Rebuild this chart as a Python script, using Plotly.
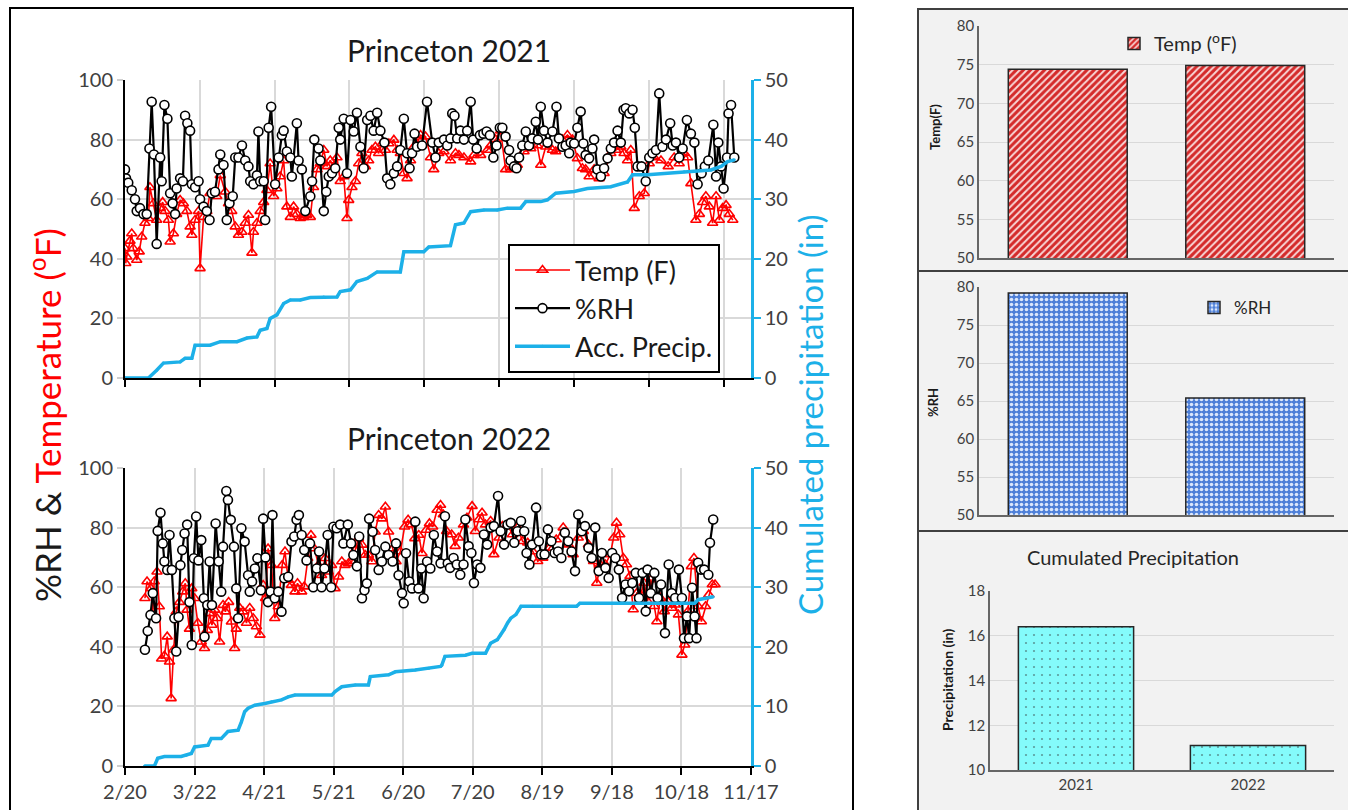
import plotly.graph_objects as go

# ---------------- data ----------------
# x values are days after Feb 20 of each year
tick_days = [0, 30, 60, 90, 120, 150, 180, 210, 240, 270]
tick_labels = ["2/20", "3/22", "4/21", "5/21", "6/20", "7/20", "8/19", "9/18", "10/18", "11/17"]

# ---- 2021 ----
rh21_day = [0, 0.4, 1.3, 2.7, 4.0, 4.7, 6.0, 7.4, 8.7, 9.8,
            10.7, 11.6, 12.7, 14.1, 14.7, 15.8, 17.0, 18.1, 19.1, 20.1,
            20.7, 22.1, 23.2, 24.1, 25.0, 26.1, 26.8, 28.1, 29.5, 30.1,
            31.5, 32.8, 33.9, 34.8, 36.1, 37.5, 38.2, 39.5, 40.8, 41.9,
            43.2, 44.2, 45.5, 46.9, 48.2, 49.5, 50.2, 51.5, 52.9, 53.5,
            54.2, 55.6, 56.2, 57.6, 58.6, 60.2, 61.6, 62.9, 63.6, 64.9,
            66.3, 66.9, 68.9, 69.6, 70.9, 72.3, 74.3, 75.0, 75.9, 77.6,
            78.3, 79.7, 80.7, 81.7, 83.0, 84.3, 85.7, 86.3, 87.7, 89.0,
            90.4, 91.7, 93.0, 94.4, 95.7, 97.1, 98.4, 99.7, 101.1, 102.4,
            104.0, 105.1, 106.4, 107.8, 109.1, 110.4, 111.8, 113.1, 114.1, 115.1,
            116.1, 117.1, 119.1, 121.1, 123.2, 124.5, 125.8,
            127.9, 129.2, 130.5, 131.2, 132.1, 133.2, 134.5, 135.9, 137.2, 138.6,
            139.6, 141.0, 142.3, 143.7, 145.0, 146.3, 147.7, 149.0, 150.3, 151.3,
            152.6, 154.0, 154.6, 156.0, 157.0, 158.0, 159.3, 160.7, 162.0, 163.3,
            164.7, 165.6, 166.7, 168.0, 169.4, 171.4, 173.0, 174.0, 175.4, 176.7,
            178.1, 178.7, 180.1, 181.4, 182.7, 183.8, 184.7, 186.1, 187.4, 188.1,
            189.4, 190.8, 192.1, 193.5, 194.8, 196.1, 197.5, 198.8, 199.9, 200.8,
            202.2, 203.5, 204.4, 205.5, 207.1, 208.8, 210.2, 211.5, 212.9, 214.2,
            215.5, 216.9, 218.6, 219.6, 220.9, 222.2, 223.6, 225.3, 226.9, 228.3,
            229.6, 231.2, 232.5, 233.9, 235.9, 237.0, 237.9, 239.0, 240.0, 241.4,
            242.0, 243.0, 244.3]
rh21_val = [70, 67, 65.5, 63, 60, 56, 57, 55, 55, 77,
            92.7, 75, 45, 74, 66, 91.6, 87, 62, 58.6, 55,
            63.6, 67, 66, 88, 85.5, 83, 65, 64, 66, 60,
            57.5, 56, 53, 62, 62.5, 70, 75, 71.5, 53, 58.6,
            61, 74, 74, 78, 73, 71, 66, 65, 68, 82.7,
            66, 66, 53, 84, 91, 65, 74, 81.5, 83, 76,
            74, 67.6, 85.5, 73, 70, 56, 61, 66, 80, 77,
            73, 56, 62.5, 67.6, 68.7, 70.4, 84, 80, 87, 68.7,
            86.6, 82.7, 89, 77.6, 70.4, 86.6, 88, 83, 89, 83,
            79, 67, 65, 68.7, 71, 76.5, 87, 75.4, 70.4, 75.4,
            82, 77.6, 78, 92.7, 79, 74, 79,
            80, 78, 80.4, 88.8, 88, 80.4, 83, 80, 83, 92.7,
            80, 77, 81.5, 82, 82.7, 81.5, 74, 78, 84, 84,
            81, 76.5, 73, 71, 70.4, 74, 78, 82.7, 78, 80.4,
            86, 80, 91, 83, 79, 82.7, 91, 80.4, 77.6, 78,
            75.4, 79, 78.7, 84, 89.4, 78.7, 74.8, 73.7, 77, 80,
            70, 67.6, 70.4, 73.7, 77, 79, 83, 79, 90, 90.5,
            88.8, 90, 84, 71, 71, 66, 74, 75.4, 76.5, 95.5,
            77.6, 80, 85.5, 78, 79, 74, 77, 86.6, 82, 79,
            65, 68.7, 71, 73, 85, 67.6, 79, 71, 63.6, 74,
            88.8, 91.6, 74]

t21_day = [0, 0.3, 0.7, 2.0, 2.7, 3.3, 4.7, 5.7, 6.7, 8.0,
           9.4, 10.0, 11.4, 12.7, 14.1, 15.1, 16.1, 17.4, 18.1, 19.4,
           20.7, 22.1, 23.4, 24.8, 26.1, 26.8, 28.1, 29.5, 30.1, 31.5,
           32.8, 34.1, 35.5, 36.8, 38.2, 40.2, 41.5, 42.8, 44.2, 45.5,
           46.9, 48.2, 49.5, 50.9, 51.5, 52.9, 54.2, 55.6, 56.9, 58.2,
           59.6, 60.9, 62.2, 63.6, 64.9, 66.3, 67.6, 68.9, 70.3, 71.6,
           72.9, 74.3, 75.6, 77.0, 78.3, 79.7, 81.0, 82.3, 83.7, 85.0,
           86.3, 87.7, 89.0, 89.7, 91.0, 92.4, 93.7, 95.0, 96.4, 97.7,
           99.0, 100.4, 101.7, 103.1, 104.4, 105.8, 107.8, 109.1, 110.4, 111.8,
           113.1, 114.5, 115.8, 117.1, 118.5, 120.5, 122.5, 123.8, 125.8,
           127.9, 130.5, 132.5, 133.9, 135.9, 138.6, 139.9, 142.6, 145.3, 146.6,
           148.6, 150.6, 152.6, 154.6, 157.3, 160.0, 162.7, 165.3, 166.7, 168.7,
           171.4, 172.7, 175.4, 177.4, 179.4, 181.4, 183.4, 184.7, 186.1, 188.1,
           190.1, 192.1, 194.8, 196.8, 198.8, 200.1, 201.5, 202.8, 204.2, 206.2,
           208.2, 210.2, 212.2, 214.9, 217.8, 220.2, 222.2, 224.2, 225.6, 226.9,
           228.9, 230.3, 231.6, 232.9, 234.3, 235.6, 237.0, 238.3, 239.6, 241.0,
           242.3, 243.7]
t21_val = [43.5, 38.5, 40.7, 46, 48.5, 43.5, 39.6, 42.4, 47.4, 52,
           53.6, 64, 58.6, 53, 57, 59, 56, 53, 45.7, 48.5,
           55, 59.7, 58.6, 56, 50.8, 48, 53, 56, 36.8, 54,
           56, 62, 62, 61, 68, 62.5, 58.6, 56, 50.8, 48,
           49, 52, 54.7, 42, 49, 52, 56, 59, 63, 72,
           61, 63.6, 67.6, 73, 57.5, 54, 57.5, 55, 53.6, 54,
           54.7, 54, 64, 70, 72, 76.5, 71, 73, 71, 74,
           66, 67.6, 53.6, 59.7, 64, 66, 72, 75.4, 71, 73,
           76.5, 77.6, 75.4, 78.7, 76.5, 78.7, 79.9, 76.5, 75.4, 68.7,
           67, 73, 77.6, 78.7, 81.5, 81, 74, 70, 75.4,
           76, 73, 75.4, 74.8, 74, 72.6, 74.8, 74.8, 76.5, 78,
           80, 83, 70, 70, 71.5, 76, 77, 78, 71.5, 77.6,
           76.5, 76, 80, 81.5, 80, 73.7, 70.4, 70, 67.6, 70,
           67, 68.7, 75.4, 76.5, 77.6, 75.4, 73, 76.5, 57, 61,
           62, 72, 74, 73, 71, 74, 72, 75.4, 74, 65.3,
           53, 55, 59, 61, 57.5, 52, 61, 53, 57, 58,
           55, 53]

p21_day = [0, 9.4, 12.7, 15.4, 22.1, 24.1, 26.8, 28.1, 34.1, 38.2,
           44.9, 48.9, 52.9, 54.2, 56.9, 58.2, 60.9, 63.6, 66.3, 70.3,
           74.3, 79.7, 85.0, 86.3, 90.4, 93.0, 97.1, 101.1, 110.4, 111.8,
           119.8, 121.8, 130.5, 132.5, 135.9, 138.6, 143.9, 149.3, 153.3, 158.6,
           160.7, 166.7, 169.4, 172.7, 180.1, 185.4, 194.8, 201.5, 203.5, 209.5,
           216.2, 224.2, 234.9, 239.0, 241.6, 244.3]
p21_val = [0, 0, 1.3, 2.5, 2.7, 3.3, 3.3, 5.5, 5.5, 6.1,
           6.1, 6.7, 6.9, 8.0, 8.3, 10, 10.6, 12.5, 13.1, 13.1,
           13.5, 13.6, 13.6, 14.5, 14.8, 16.2, 16.7, 17.8, 17.8, 21.2,
           21.2, 22, 22.2, 25.7, 26, 27.9, 28.2, 28.2, 28.5, 28.5,
           29.6, 29.6, 29.9, 31, 31.3, 31.8, 32.1, 32.9, 34.1, 34.1,
           34.3, 34.6, 34.9, 35.5, 36.3, 36.6]

# ---- 2022 ----
rh22_day = [8.6, 9.8, 11.0, 12.0, 13.4, 14.1, 15.3, 16.3, 17.0, 18.2,
            19.2, 20.2, 21.3, 22.1, 23.1, 23.9, 24.7, 25.7, 26.8, 27.8,
            28.8, 29.7, 30.7, 31.7, 32.9, 34.0, 34.3, 35.5, 36.5, 37.5,
            39.1, 40.4, 41.5, 42.3, 43.7, 44.4, 45.6, 47.0, 48.0, 48.8,
            50.2, 51.6, 53.1, 53.8, 54.8, 56.0, 57.1, 58.6, 59.6, 60.6,
            61.7, 62.8, 63.6, 64.6, 66.1, 67.5, 68.7, 70.4, 71.8, 73.0,
            74.0, 75.0, 76.2, 77.3, 78.3, 79.8, 81.2, 82.7, 83.7, 84.8,
            86.0, 87.4, 88.9, 89.9, 91.3, 92.8, 94.2, 96.1, 97.5, 98.5,
            100.0, 101.0, 102.2, 103.3, 104.3, 105.3, 106.8, 107.9, 109.4, 110.8,
            112.3, 113.7, 115.4, 116.9, 118.0, 119.5, 120.2, 121.2, 122.6, 123.8,
            125.2, 126.6, 127.8, 128.8, 130.3, 131.7, 133.2, 134.6, 136.1,
            138.0, 139.2, 140.2, 141.7, 143.1, 144.6, 146.0, 146.8, 148.2, 149.4,
            150.5, 151.9, 153.3, 154.8, 156.2, 157.7, 159.1, 160.9, 162.0, 163.5,
            165.0, 166.4, 167.9, 169.3, 170.8, 172.2, 173.2, 174.4, 175.6, 177.3,
            178.5, 179.5, 181.0, 182.4, 183.9, 185.3, 186.8, 188.2, 189.7, 191.2,
            192.6, 194.1, 195.5, 197.0, 198.4, 199.9, 201.3, 202.8, 204.3, 205.7,
            207.2, 208.6, 210.1, 211.5, 213.0, 214.4, 215.9, 217.4, 218.8, 220.3,
            221.7, 223.2, 224.6, 225.4, 226.8, 228.3, 229.7, 231.2, 232.9, 234.5,
            235.8, 237.3, 238.9, 240.2, 241.1, 242.4, 243.3, 244.6, 245.7, 246.5,
            247.2, 248.4, 249.8, 251.6, 252.3, 253.7]
rh22_val = [39, 45.3, 50.7, 58, 49.6, 78.9, 85, 74.7, 68.6, 65.8,
            77.5, 65.8, 49.6, 38.4, 50, 67.4, 72.5, 78, 81, 55,
            40.6, 69.7, 83.7, 69, 75.8, 56.3, 43.4, 54, 68.6, 54,
            81.4, 68.6, 58.5, 73.6, 92.3, 89.3, 82.6, 73.6, 59.6, 49.6,
            79.8, 75.3, 64, 58.5, 61.9, 66.3, 69.7, 59, 83, 70,
            55, 58.5, 84.2, 56.3, 58.5, 51.8, 63, 63.5, 75.3, 77,
            82.6, 84.2, 77.5, 72.5, 69, 74.7, 60, 66.3, 72, 60,
            66.3, 77.5, 60, 80.3, 79.8, 81, 74.7, 81, 74.7, 70.8,
            67, 77, 56.3, 59, 61.3, 83, 78.6, 72.5, 65.8, 68.6,
            73.6, 70.8, 68.6, 74.7, 64, 58, 54.6, 71.4, 61.9, 59.6,
            82, 59.6, 66.3, 56.3, 68.6, 66.3, 77.5, 72, 68,
            83.8, 68, 66.5, 69.8, 67.6, 64.2, 67.6, 82.7, 73.8, 71.5,
            61.4, 67.6, 66.5, 77.7, 74.3, 80, 80.5, 90.6, 78.8, 74.3,
            81, 81.6, 74.9, 78.8, 82.2, 78.8, 71.5, 67.6, 74.3, 86.7,
            75.4, 71, 71, 79.4, 75.4, 71.5, 72, 69.8, 78.3, 75.4,
            72, 65.4, 84.4, 78.8, 80.5, 73.2, 69.8, 80, 65.4, 71.5,
            66.5, 63.1, 71.5, 69.8, 65.9, 56.4, 60.9, 58.6, 61.4, 64.8,
            56.4, 64.8, 51.9, 65.9, 58, 64.8, 56.4, 60.9, 44.6, 67.6,
            58, 56.4, 65.9, 56.4, 42.9, 50.2, 42.9, 59.8, 50.2, 42.9,
            68.2, 65.9, 65.9, 64.2, 74.9, 82.7]

t22_day = [8.6, 9.5, 11.2, 11.9, 12.6, 13.8, 14.8, 15.8, 17.0, 18.2,
           19.2, 19.9, 21.0, 22.1, 23.5, 24.9, 26.0, 26.8, 27.8, 28.8,
           30.0, 31.4, 32.9, 34.3, 35.5, 36.5, 37.5, 38.7, 39.7, 40.8,
           42.3, 43.3, 44.7, 45.9, 47.3, 48.0, 49.5, 50.9, 52.4, 53.8,
           55.3, 56.7, 58.2, 59.6, 60.6, 61.7, 63.2, 64.6, 66.1, 67.8,
           69.0, 70.4, 71.8, 73.3, 74.4, 76.2, 77.3, 78.8, 80.2, 81.6,
           83.4, 84.8, 86.3, 87.7, 89.1, 90.6, 92.1, 93.5, 94.9, 96.4,
           97.8, 99.3, 100.7, 102.2, 103.6, 105.0, 106.5, 107.9, 109.4, 110.8,
           112.3, 113.7, 115.4, 116.9, 118.8, 120.6, 122.1, 123.5, 125.0, 126.7,
           128.1, 129.9, 131.3, 132.7, 134.6, 136.1,
           137.3, 138.7, 140.9, 142.4, 143.8, 146.0, 147.5, 149.7, 151.1, 152.6,
           154.0, 155.5, 157.7, 159.1, 161.3, 162.8, 165.0, 167.1, 169.3, 171.5,
           173.7, 175.9, 178.0, 180.2, 183.1, 186.0, 189.0, 191.2, 193.3, 195.5,
           197.7, 199.9, 202.1, 203.5, 205.0, 207.2, 209.3, 210.8, 212.0, 213.4,
           214.9, 216.3, 217.8, 219.2, 220.7, 222.4, 223.9, 225.4, 226.8, 228.3,
           229.4, 230.9, 232.6, 234.1, 235.8, 237.3, 238.7, 240.2, 241.4, 242.8,
           244.3, 245.4, 247.2, 248.6, 250.4, 251.8, 253.3, 254.5]
t22_val = [56.3, 61.9, 59.6, 50.7, 61.9, 65.2, 53.5, 36, 37, 43.4,
           35, 22.7, 39, 51.8, 55, 58.5, 61.3, 52.4, 46, 59.6,
           56.3, 48, 41.7, 39.5, 45.6, 51.2, 47.3, 52.4, 49.6, 41.7,
           54, 51.8, 55, 48.4, 39.5, 46, 53, 51.8, 48, 53,
           49.6, 46.8, 44, 60.7, 56.3, 73, 67.4, 49.6, 53.5, 67.4,
           72, 62.4, 60.7, 58.5, 61.3, 58.5, 60.2, 69.7, 77.5, 73,
           67.4, 64, 69.7, 65.2, 67.4, 59.6, 63.5, 68.6, 67.4, 68,
           68.6, 72.5, 76.4, 74.2, 70.8, 70.8, 68.6, 78.6, 84.2, 83,
           87, 78.6, 73, 68.6, 72, 80.3, 82.6, 81, 76.4, 77.5,
           71.4, 79.2, 81.4, 80.3, 85.9, 87.6,
           84.4, 78.8, 77.7, 73.8, 76.6, 81, 83.3, 87.2, 78.8, 82.7,
           85, 81, 82.2, 71, 76.6, 80.5, 81, 77.7, 80, 75.4,
           74.9, 72, 68.7, 69.8, 73.2, 76, 80, 74.3, 71, 76.6,
           78.8, 74.3, 68.7, 61.4, 67.6, 67.6, 71, 76.6, 81.6, 77.7,
           69.8, 67.6, 63.7, 52.5, 58, 57.5, 61.4, 55.3, 62.6, 53.6,
           48.5, 56.4, 51.9, 55.3, 53, 54.1, 50.8, 37.3, 40.7, 51.9,
           67, 69.8, 53.6, 48.5, 53.6, 57.5, 60.9, 60.9]

p22_day = [8.4, 12.7, 14.1, 17.0, 24.2, 26.4, 28.6, 30.0, 35.8, 37.2,
           41.5, 44.4, 48.8, 50.2, 51.6, 53.1, 56.0, 60.3, 63.2, 67.5,
           70.4, 73.3, 89.2, 90.6, 93.5, 99.3, 105.0, 105.8, 113.7, 116.6,
           125.2, 131.0, 136.1, 136.6, 138.0, 146.8, 149.7, 155.5, 157.7, 160.6,
           162.0, 163.5, 165.0, 166.4, 168.6, 170.8, 175.9, 194.8, 196.2, 219.5,
           245.7, 247.2, 250.1, 253.7]
p22_val = [0, 0, 1.3, 1.6, 1.6, 1.8, 2.1, 3.2, 3.5, 4.6,
           4.6, 5.8, 6.0, 7.4, 9.1, 9.7, 10.2, 10.5, 10.8, 11.1,
           11.6, 11.9, 11.9, 12.5, 13.3, 13.6, 13.6, 15.0, 15.3, 15.8,
           16.1, 16.4, 16.7, 16.9, 18.4, 18.6, 18.9, 18.9, 20.6, 21.2,
           22.0, 22.9, 24.0, 24.8, 25.4, 26.8, 26.8, 26.8, 27.3, 27.3,
           27.3, 27.9, 28.1, 28.4]

# ---- summary bars ----
years = ["2021", "2022"]
avg_temp = [74.4, 74.9]
avg_rh = [79.2, 65.4]
cum_precip = [16.4, 11.1]

# ---------------- figure ----------------
W, H = 1348, 810
def px(x):
    return x / W
def py(y):
    return 1 - y / H

FONT = "Lato"
RED = "#ff0000"
BLUE = "#1cb0e8"
GRID = "#d9d9d9"
TICKC = "#404040"

fig = go.Figure()

def add_year(xa, ya, yb, tday, tval, rday, rval, pday, pval, show):
    fig.add_trace(go.Scatter(
        x=tday, y=tval, xaxis=xa, yaxis=ya, mode="lines+markers", name="Temp (F)",
        line=dict(color=RED, width=1.6),
        marker=dict(symbol="triangle-up-open", size=9, color=RED, line=dict(width=1.6, color=RED)),
        showlegend=show, legendgroup="t"))
    fig.add_trace(go.Scatter(
        x=rday, y=rval, xaxis=xa, yaxis=ya, mode="lines+markers", name="%RH",
        line=dict(color="black", width=2.2),
        marker=dict(symbol="circle", size=9, color="white", line=dict(width=1.6, color="black")),
        showlegend=show, legendgroup="r"))
    fig.add_trace(go.Scatter(
        x=pday, y=pval, xaxis=xa, yaxis=yb, mode="lines+markers", name="Acc. Precip.",
        line=dict(color=BLUE, width=3.5),
        marker=dict(symbol="circle", size=3, color=BLUE),
        showlegend=show, legendgroup="p"))

add_year("x", "y", "y2", t21_day, t21_val, rh21_day, rh21_val, p21_day, p21_val, True)
add_year("x2", "y3", "y4", t22_day, t22_val, rh22_day, rh22_val, p22_day, p22_val, False)

BAR_LINE = dict(color="#262626", width=1.5)
fig.add_trace(go.Bar(
    x=years, y=avg_temp, xaxis="x3", yaxis="y5", name="Temp (<sup>o</sup>F)", legend="legend2",
    marker=dict(color="#d42a2a", line=BAR_LINE,
                pattern=dict(shape="/", bgcolor="#d42a2a", fgcolor="#f8d6d6", size=5,
                             solidity=0.4, fillmode="replace"))))
fig.add_trace(go.Bar(
    x=years, y=avg_rh, xaxis="x4", yaxis="y6", name="%RH", legend="legend3",
    marker=dict(color="#4d7fd8", line=BAR_LINE,
                pattern=dict(shape=".", bgcolor="#4d7fd8", fgcolor="#dbe7fb", size=5,
                             solidity=0.4, fillmode="replace"))))
fig.add_trace(go.Bar(
    x=years, y=cum_precip, xaxis="x5", yaxis="y7", name="Precip", showlegend=False,
    marker=dict(color="#84fbfb", line=BAR_LINE,
                pattern=dict(shape=".", bgcolor="#84fbfb", fgcolor="#5c9c9c", size=8,
                             solidity=0.06, fillmode="replace"))))

left_tick = dict(family=FONT, size=20, color=TICKC)
x_common = dict(showgrid=True, gridcolor=GRID, gridwidth=2, showline=True, linecolor="black",
                linewidth=2, ticks="outside", ticklen=7, tickwidth=2, tickcolor="black",
                zeroline=False, tickfont=left_tick, automargin=False)
y_common = dict(range=[0, 100], tickvals=[0, 20, 40, 60, 80, 100], showgrid=True, gridcolor=GRID,
                gridwidth=2, showline=True, linecolor="black", linewidth=2, ticks="outside",
                ticklen=6, tickwidth=2, tickcolor="#cfcfcf", zeroline=False, tickfont=left_tick,
                automargin=False)
y2_common = dict(range=[0, 50], tickvals=[0, 10, 20, 30, 40, 50], side="right", showgrid=False,
                 showline=True, linecolor=BLUE, linewidth=2.5, ticks="outside", ticklen=7,
                 tickwidth=2, tickcolor=BLUE, zeroline=False, tickfont=left_tick, automargin=False)

r_tick = dict(family=FONT, size=15, color=TICKC)
rx_common = dict(showgrid=False, showline=True, linecolor="#666666", linewidth=1.5, ticks="",
                 zeroline=False, tickfont=dict(family=FONT, size=15, color=TICKC), automargin=False)
ry_common = dict(showgrid=True, gridcolor="#d9d9d9", gridwidth=1, showline=True, linecolor="#666666",
                 linewidth=1.5, ticks="", zeroline=False, tickfont=r_tick, automargin=False)

fig.update_layout(
    width=W, height=H, margin=dict(l=0, r=0, t=0, b=0, pad=0, autoexpand=False),
    paper_bgcolor="white", plot_bgcolor="rgba(0,0,0,0)",
    font=dict(family=FONT, color="#1a1a1a"),
    bargap=0.33,
    xaxis=dict(domain=[px(125), px(751)], anchor="y", range=[0, 251], tickvals=tick_days[:9],
               showticklabels=False, **x_common),
    yaxis=dict(domain=[py(378), py(80)], anchor="x", **y_common),
    yaxis2=dict(overlaying="y", anchor="x", **y2_common),
    xaxis2=dict(domain=[px(125), px(751)], anchor="y3", range=[0, 270], tickvals=tick_days,
                ticktext=tick_labels, **x_common),
    yaxis3=dict(domain=[py(766), py(468)], anchor="x2", **y_common),
    yaxis4=dict(overlaying="y3", anchor="x2", **y2_common),
    xaxis3=dict(domain=[px(979), px(1334)], anchor="y5", showticklabels=False, **rx_common),
    yaxis5=dict(domain=[py(258), py(26)], anchor="x3", range=[50, 80], dtick=5, **ry_common),
    xaxis4=dict(domain=[px(979), px(1334)], anchor="y6", showticklabels=False, **rx_common),
    yaxis6=dict(domain=[py(515), py(287)], anchor="x4", range=[50, 80], dtick=5, **ry_common),
    xaxis5=dict(domain=[px(990), px(1334)], anchor="y7", **rx_common),
    yaxis7=dict(domain=[py(770), py(591)], anchor="x5", range=[10, 18], dtick=2, **ry_common),
    legend=dict(x=px(508), y=py(244), xanchor="left", yanchor="top", bgcolor="white",
                bordercolor="black", borderwidth=2, font=dict(family=FONT, size=27, color="#1a1a1a"),
                itemwidth=55, tracegroupgap=0),
    legend2=dict(x=px(1114), y=py(24), xanchor="left", yanchor="top", bgcolor="rgba(0,0,0,0)",
                 font=dict(family=FONT, size=20, color="#262626"), itemwidth=30),
    legend3=dict(x=px(1194), y=py(290), xanchor="left", yanchor="top", bgcolor="rgba(0,0,0,0)",
                 font=dict(family=FONT, size=17, color="#262626"), itemwidth=30),
)

# panels / frames
shapes = [
    dict(type="rect", xref="paper", yref="paper", x0=px(10), x1=px(853), y0=py(830), y1=py(8),
         line=dict(color="black", width=2), fillcolor="rgba(0,0,0,0)", layer="below"),
]
for (t, b) in [(9, 271), (271, 531), (531, 830)]:
    shapes.append(dict(type="rect", xref="paper", yref="paper", x0=px(918), x1=px(1360),
                       y0=py(b), y1=py(t), line=dict(color="#404040", width=2),
                       fillcolor="#f2f2f2", layer="below"))
fig.update_layout(shapes=shapes)

ann = []
def add_ann(text, x, y, size, color="#1a1a1a", angle=0, bold=False):
    ann.append(dict(text=("<b>%s</b>" % text) if bold else text, x=px(x), y=py(y), xref="paper",
                    yref="paper", showarrow=False, xanchor="center", yanchor="middle",
                    textangle=angle, font=dict(family=FONT, size=size, color=color)))

add_ann("Princeton 2021", 449, 50, 30)
add_ann("Princeton 2022", 449, 438, 30)
add_ann("%RH & <span style='color:#ff0000'>Temperature (<sup>o</sup>F)</span>", 45, 415, 35, angle=-90)
add_ann("Cumulated precipitation (in)", 810, 415, 33, color=BLUE, angle=-90)
add_ann("Temp(F)", 935, 127, 13, angle=-90, bold=True)
add_ann("%RH", 933, 402, 13, angle=-90, bold=True)
add_ann("Precipitation (in)", 947, 680, 14, angle=-90, bold=True)
add_ann("Cumulated Precipitation", 1133, 557, 20, color="#262626")
fig.update_layout(annotations=ann)

fig.write_html("out.html", config={"displayModeBar": False},
               post_script="document.body.style.margin='0px';document.body.style.overflow='hidden';")
